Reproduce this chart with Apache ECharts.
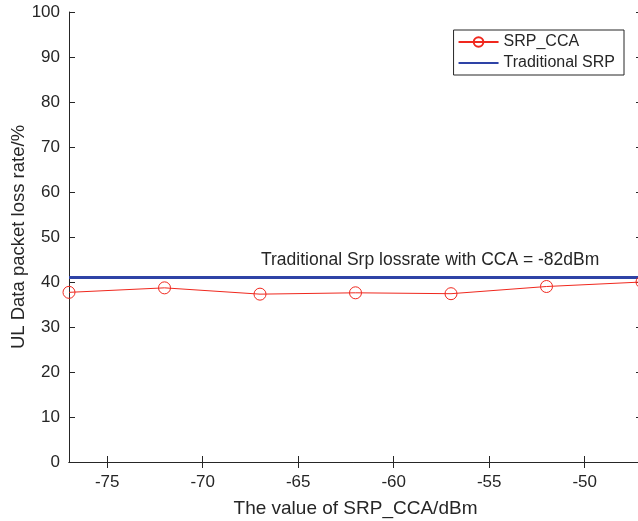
<!DOCTYPE html>
<html>
<head>
<meta charset="utf-8">
<script src="https://cdn.jsdelivr.net/npm/echarts@6/dist/echarts.min.js"></script>
<style>
  html, body { margin: 0; padding: 0; background: #fff; }
  #main { width: 638px; height: 521px; }
</style>
</head>
<body>
<div id="main"></div>
<script>
// SRP_CCA values (dBm) and loss rates
const ccaValues = [-77, -72, -67, -62, -57, -52, -47];
const srpCcaLoss = [37.7, 38.7, 37.3, 37.6, 37.4, 39.0, 40.0];
const traditionalLoss = 41;
const xTicks = [-75, -70, -65, -60, -55, -50];

const axisColor = '#262626';
const fontFamily = 'Arial, "Liberation Sans", Helvetica, sans-serif';

const chart = echarts.init(document.getElementById('main'), null, { renderer: 'canvas' });

const tickStyle = { show: true, inside: true, length: 6, lineStyle: { color: axisColor, width: 1 } };
const lineStyle = { show: true, lineStyle: { color: axisColor, width: 1 } };

chart.setOption({
    animation: false,
    backgroundColor: '#fff',
    grid: { left: 69, right: -4, top: 12, bottom: 59, containLabel: false, outerBoundsMode: 'none' },
    legend: {
        right: 14,
        top: 30,
        orient: 'vertical',
        itemGap: 5,
        itemWidth: 40,
        itemHeight: 12,
        padding: [4, 9, 4, 4],
        borderColor: axisColor,
        borderWidth: 1,
        backgroundColor: '#fff',
        textStyle: { color: axisColor, fontSize: 16, fontFamily: fontFamily },
        data: [
            { name: 'SRP_CCA' },
            { name: 'Traditional SRP', itemStyle: { opacity: 0 } }
        ]
    },
    xAxis: [
        {
            type: 'value',
            min: -77,
            max: -47,
            position: 'bottom',
            name: 'The value of SRP_CCA/dBm',
            nameLocation: 'middle',
            nameGap: 37,
            nameTextStyle: { color: axisColor, fontSize: 19, fontFamily: fontFamily },
            axisLine: lineStyle,
            axisTick: Object.assign({ customValues: xTicks }, tickStyle),
            splitLine: { show: false },
            axisLabel: {
                color: axisColor, fontSize: 17, fontFamily: fontFamily, margin: 12,
                customValues: xTicks
            }
        },
        {
            type: 'value',
            min: -77,
            max: -47,
            position: 'top',
            axisLine: lineStyle,
            axisTick: Object.assign({ customValues: xTicks }, tickStyle),
            axisLabel: { show: false },
            splitLine: { show: false }
        }
    ],
    yAxis: [
        {
            type: 'value',
            min: 0,
            max: 100,
            interval: 10,
            position: 'left',
            name: 'UL Data packet loss rate/%',
            nameLocation: 'middle',
            nameGap: 41,
            nameMoveOverlap: false,
            nameTextStyle: { color: axisColor, fontSize: 18.5, fontFamily: fontFamily },
            axisLine: lineStyle,
            axisTick: tickStyle,
            splitLine: { show: false },
            axisLabel: { color: axisColor, fontSize: 17, fontFamily: fontFamily, margin: 9 }
        },
        {
            type: 'value',
            min: 0,
            max: 100,
            interval: 10,
            position: 'right',
            axisLine: lineStyle,
            axisTick: tickStyle,
            axisLabel: { show: false },
            splitLine: { show: false }
        }
    ],
    graphic: [
        {
            type: 'text',
            left: 261,
            top: 251,
            style: {
                text: 'Traditional Srp lossrate with CCA = -82dBm',
                fill: axisColor,
                fontSize: 17.5,
                fontFamily: fontFamily
            }
        }
    ],
    series: [
        {
            name: 'Traditional SRP',
            type: 'line',
            data: [[-77, traditionalLoss], [-47, traditionalLoss]],
            showSymbol: false,
            symbol: 'none',
            lineStyle: { color: '#2e43a6', width: 3 },
            itemStyle: { color: '#2e43a6' },
            z: 2
        },
        {
            name: 'SRP_CCA',
            type: 'line',
            data: ccaValues.map((x, i) => [x, srpCcaLoss[i]]),
            symbol: 'circle',
            symbolSize: 12,
            showAllSymbol: true,
            clip: false,
            lineStyle: { color: '#f0281e', width: 1 },
            itemStyle: { color: 'rgba(255,255,255,0)', borderColor: '#f0281e', borderWidth: 1 },
            z: 3
        }
    ]
});
</script>
</body>
</html>
